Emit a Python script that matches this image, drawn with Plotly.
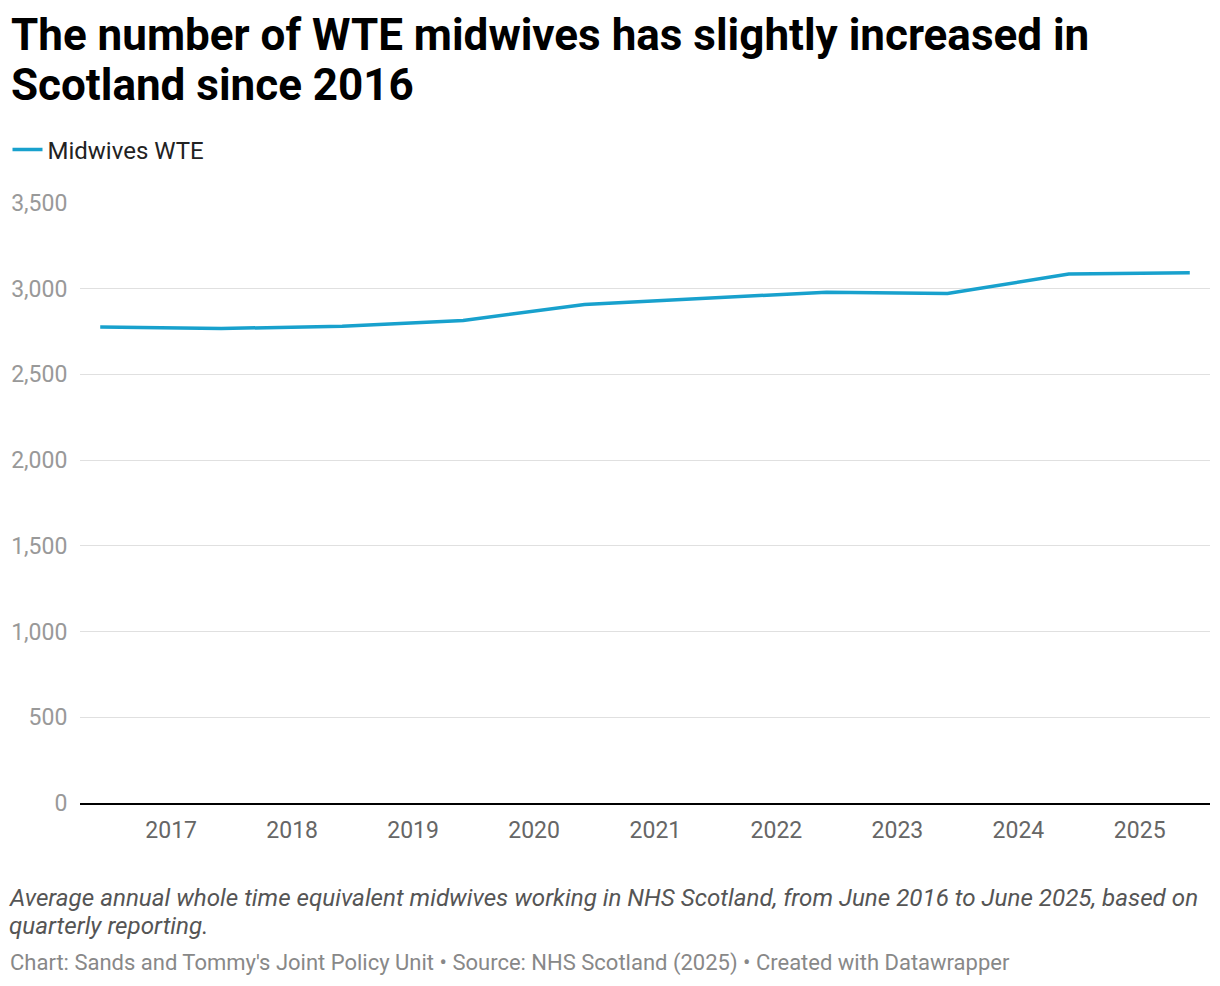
import plotly.graph_objects as go

dates = ["2016-06-01", "2017-06-01", "2018-06-01", "2019-06-01", "2020-06-01",
         "2021-06-01", "2022-06-01", "2023-06-01", "2024-06-01", "2025-06-01"]
midwives_wte = [2777, 2768, 2781, 2815, 2908, 2945, 2980, 2972, 3086, 3093]
series_name = "Midwives WTE"
y_ticks = [0, 500, 1000, 1500, 2000, 2500, 3000, 3500]

title_lines = ["The number of WTE midwives has slightly increased in",
               "Scotland since 2016"]
caption_lines = ["Average annual whole time equivalent midwives working in NHS Scotland, from June 2016 to June 2025, based on",
                 "quarterly reporting."]
source_text = "Chart: Sands and Tommy's Joint Policy Unit • Source: NHS Scotland (2025) • Created with Datawrapper"

# page has an 8px body margin; plot area in page pixels: x 80..1210, y 203..803
OFF = 8
PAGE_W, PAGE_H = 1220, 986
PL, PR, PT, PB = 80, 1210, 203, 803
W, H = PAGE_W - OFF, PAGE_H - OFF
L, T = PL - OFF, PT - OFF
R = W - (PR - OFF)
B = H - (PB - OFF)
pw, ph = PR - PL, PB - PT


def px_x(x):
    return (x - PL) / pw


def px_y(y):
    return (PB - y) / ph


fig = go.Figure()
fig.add_trace(go.Scatter(
    x=dates, y=midwives_wte, mode="lines", name=series_name,
    line=dict(color="#18a1cd", width=3.5),
))

annotations = []
for txt, yc in zip(title_lines, [35, 85]):
    annotations.append(dict(
        text="<b>" + txt + "</b>", xref="paper", yref="paper",
        x=px_x(9), y=px_y(yc), xanchor="left", yanchor="middle",
        showarrow=False, font=dict(family="Roboto", size=44, color="#000"),
    ))
for txt, yc in zip(caption_lines, [898, 926]):
    annotations.append(dict(
        text="<i>" + txt + "</i>", xref="paper", yref="paper",
        x=px_x(7), y=px_y(yc), xanchor="left", yanchor="middle",
        showarrow=False, font=dict(family="Roboto", size=24.2, color="#555"),
    ))
annotations.append(dict(
    text=source_text, xref="paper", yref="paper",
    x=px_x(8), y=px_y(963), xanchor="left", yanchor="middle",
    showarrow=False, font=dict(family="Roboto", size=22, color="#888"),
))

fig.update_layout(
    width=W, height=H,
    margin=dict(l=L, r=R, t=T, b=B, autoexpand=False),
    paper_bgcolor="white", plot_bgcolor="white",
    font=dict(family="Roboto", size=23, color="#333"),
    showlegend=True,
    legend=dict(
        x=px_x(7.5), y=px_y(150), xanchor="left", yanchor="middle",
        orientation="h", font=dict(size=24, color="#222"),
        itemwidth=30, bgcolor="rgba(0,0,0,0)",
    ),
    xaxis=dict(
        type="date",
        range=["2016-04-01", "2025-08-01"],
        tick0="2017-01-01", dtick="M12", tickformat="%Y",
        showgrid=False, showline=True, linecolor="#000", linewidth=2,
        ticks="outside", ticklen=5, tickcolor="rgba(0,0,0,0)",
        tickfont=dict(size=23, color="#666"),
        zeroline=False,
    ),
    yaxis=dict(
        range=[0, 3500], tickvals=y_ticks, tickformat=",",
        showgrid=True, gridcolor="#e0e0e0", gridwidth=1,
        zeroline=False, showline=False,
        tickfont=dict(size=23, color="#999"),
        ticks="outside", ticklen=7, tickcolor="rgba(0,0,0,0)",
    ),
    annotations=annotations,
)

fig.write_html("out.html")
